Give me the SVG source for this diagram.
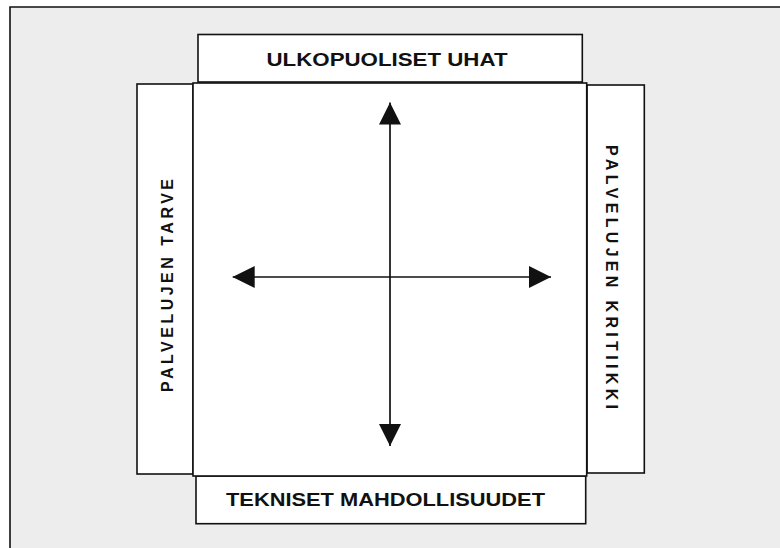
<svg xmlns="http://www.w3.org/2000/svg" width="780" height="548" viewBox="0 0 780 548">
<style>
.box{fill:#ffffff;stroke:#111111;stroke-width:1.6}
.lbl{font-family:"Liberation Sans",Arial,sans-serif;font-weight:bold;fill:#111111}
.big{font-size:19px}
.side{font-size:16px}
.conn{stroke:#111111;stroke-width:1.7;fill:none}
</style>
<defs>
<marker id="ah" markerUnits="userSpaceOnUse" markerWidth="22" markerHeight="22" viewBox="0 0 20 20" refX="20" refY="10" orient="auto">
<path d="M0,0 L20,10 L0,20 Z" fill="#111111"/>
</marker>
</defs>
<rect x="0" y="0" width="780" height="548" fill="#ffffff"/>
<path d="M10,548 V7 H780 V548 Z" fill="#ededed"/>
<path d="M10,548 V7 H780" fill="none" stroke="#111111" stroke-width="1.6"/>
<g id="node-top">
<rect class="box" x="198" y="34.5" width="384.3" height="47.5"/>
<text class="lbl big" x="266.5" y="66" textLength="241" lengthAdjust="spacingAndGlyphs">ULKOPUOLISET UHAT</text>
</g>
<g id="node-left">
<rect class="box" x="137" y="84" width="56" height="390"/>
<text class="lbl side" transform="translate(172.7,392) rotate(-90)" x="0" y="0" textLength="213" lengthAdjust="spacing">PALVELUJEN TARVE</text>
</g>
<g id="node-right">
<rect class="box" x="587" y="85" width="57.3" height="388"/>
<text class="lbl side" transform="translate(606,145) rotate(90)" x="0" y="0" textLength="264" lengthAdjust="spacing">PALVELUJEN KRITIIKKI</text>
</g>
<g id="node-bottom">
<rect class="box" x="196" y="476" width="389.7" height="47.7"/>
<text class="lbl big" x="226" y="506" textLength="319" lengthAdjust="spacingAndGlyphs">TEKNISET MAHDOLLISUUDET</text>
</g>
<g id="node-center">
<rect class="box" x="193" y="83" width="393.7" height="393"/>
</g>
<g id="connectors">
<line class="conn" x1="390" y1="277" x2="390" y2="102.5" marker-end="url(#ah)"/>
<line class="conn" x1="390" y1="277" x2="390" y2="446" marker-end="url(#ah)"/>
<line class="conn" x1="390" y1="277" x2="232.7" y2="277" marker-end="url(#ah)"/>
<line class="conn" x1="390" y1="277" x2="551" y2="277" marker-end="url(#ah)"/>
</g>
</svg>
